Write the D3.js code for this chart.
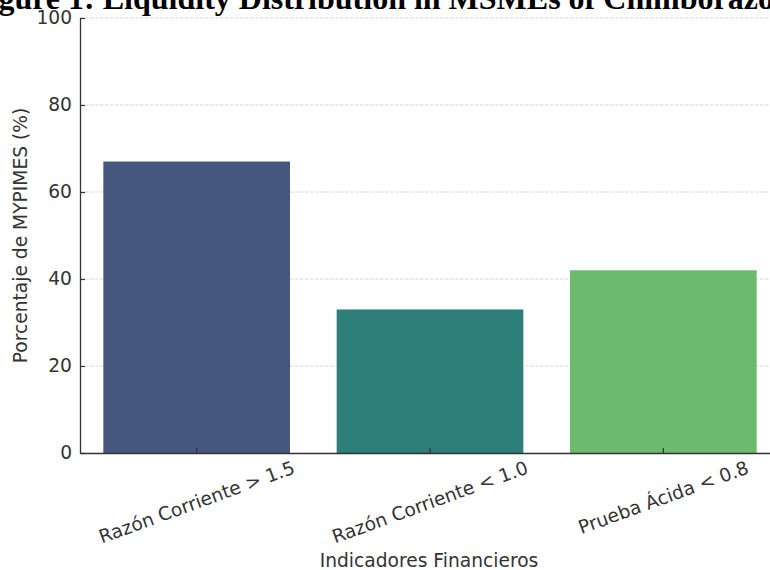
<!DOCTYPE html>
<html>
<head>
<meta charset="utf-8">
<script src="https://cdn.jsdelivr.net/npm/d3@7"></script>
<style>
  html, body { margin: 0; padding: 0; background: #fff; overflow: hidden; }
  svg { display: block; }
</style>
</head>
<body>
<svg id="chart" width="770" height="570"></svg>
<script>
const categories = ["Razón Corriente > 1.5", "Razón Corriente < 1.0", "Prueba Ácida < 0.8"];
const values = [67, 33, 42];
const barColors = ["#46577e", "#2e7f79", "#6bba6e"];
const yTicks = [0, 20, 40, 60, 80, 100];
const titleText = "Figure 1: Liquidity Distribution in MSMEs of Chimborazo";
const xLabel = "Indicadores Financieros";
const yLabel = "Porcentaje de MYPIMES (%)";

(function () {
const svg = d3.select("#chart");
const pL = 80, pR = 780, pT = 18, pB = 453;
const textColor = "#333333";
const font = "'DejaVu Sans', sans-serif";
const fs = 18.67;

const x = d3.scaleBand().domain(categories).range([pL, pR]).paddingInner(0.2).paddingOuter(0.1);
const y = d3.scaleLinear().domain([0, 100]).range([pB, pT]);

// grid
svg.append("g").selectAll("line").data(yTicks.filter(d => d > 0)).join("line")
  .attr("x1", pL).attr("x2", 770)
  .attr("y1", d => y(d)).attr("y2", d => y(d))
  .attr("stroke", "#d6d6d6").attr("stroke-width", 1)
  .attr("stroke-dasharray", "3.5,1.5");

// bars
svg.append("g").selectAll("rect").data(categories).join("rect")
  .attr("x", d => x(d)).attr("width", x.bandwidth())
  .attr("y", (d, i) => y(values[i]))
  .attr("height", (d, i) => y(0) - y(values[i]))
  .attr("fill", (d, i) => barColors[i]);

// y axis
const yAxis = svg.append("g").attr("transform", `translate(${pL},0)`)
  .call(d3.axisLeft(y).tickValues(yTicks).tickSizeInner(-5).tickSizeOuter(0).tickPadding(8));
yAxis.select(".domain").attr("stroke", textColor).attr("stroke-width", 1.3);
yAxis.selectAll(".tick line").attr("stroke", textColor).attr("stroke-width", 1.2);
yAxis.selectAll(".tick text").attr("fill", textColor).attr("font-family", font).attr("font-size", fs)
  .attr("x", -8).attr("text-anchor", "end");

// x axis
const xAxis = svg.append("g").attr("transform", `translate(0,${pB})`)
  .call(d3.axisBottom(x).tickSizeInner(-5).tickSizeOuter(0).tickFormat(() => ""));
xAxis.select(".domain").attr("stroke", textColor).attr("stroke-width", 1.3);
xAxis.selectAll(".tick line").attr("stroke", textColor).attr("stroke-width", 1.2);

// rotated x tick labels (rotation 20deg about center, bbox top at fixed gap)
const ang = 20 * Math.PI / 180;
const lbls = svg.append("g").selectAll("text").data(categories).join("text")
  .attr("font-family", font).attr("font-size", fs).attr("fill", textColor)
  .attr("text-anchor", "middle").attr("dominant-baseline", "central")
  .text(d => d);
lbls.each(function(d) {
  const w = this.getComputedTextLength();
  const h = fs * 1.0;
  const bh = w * Math.sin(ang) + h * Math.cos(ang);
  const cx = x(d) + x.bandwidth() / 2;
  const cy = pB + 5 + bh / 2;
  d3.select(this).attr("x", 0).attr("y", 0)
    .attr("transform", `translate(${cx},${cy}) rotate(-20)`);
});

// axis labels
svg.append("text").attr("x", (pL + pR) / 2 - 1).attr("y", 567)
  .attr("text-anchor", "middle").attr("font-family", font).attr("font-size", fs)
  .attr("fill", textColor).text(xLabel);
svg.append("text").attr("transform", `translate(27,${(pT + pB) / 2}) rotate(-90)`)
  .attr("text-anchor", "middle").attr("font-family", font).attr("font-size", fs)
  .attr("fill", textColor).text(yLabel);

// title (cut off at top)
svg.append("text").attr("x", -30).attr("y", 9)
  .attr("font-family", "'Liberation Serif', 'Times New Roman', serif").attr("font-weight", "bold")
  .attr("font-size", 32).attr("fill", "#000").text(titleText);
})();
</script>
</body>
</html>
